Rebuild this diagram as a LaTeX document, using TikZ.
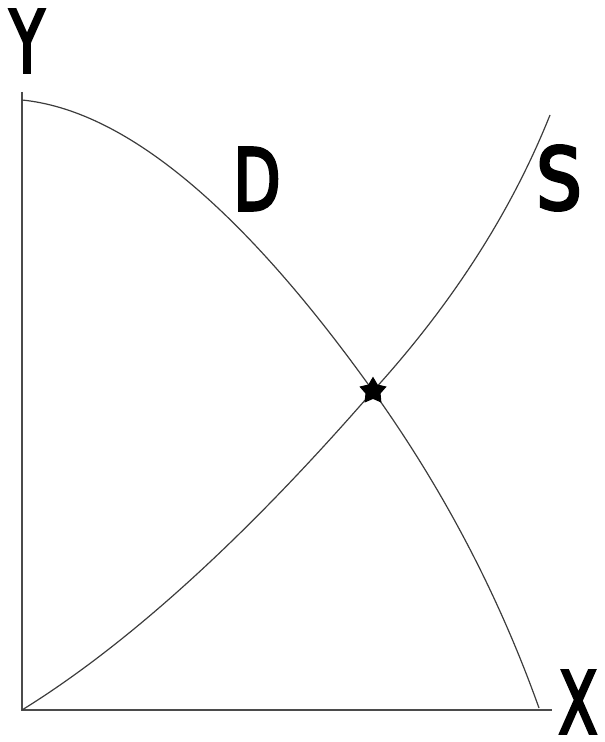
\documentclass[tikz,border=0pt]{standalone}
\usepackage{fontspec}
\usepackage{graphicx}
\setmainfont{DejaVu Sans}
\newfontfamily\letterfont{DejaVu Sans}[FakeBold=4]
\usetikzlibrary{shapes.geometric,intersections}

\tikzset{every picture/.style={line width=0.75pt}}
\tikzset{
  axisline/.style={color={rgb, 255:red, 75; green, 75; blue, 75}, line width=1.4},
  curveline/.style={color={rgb, 255:red, 60; green, 60; blue, 60}, line width=0.9},
  letter/.style={inner sep=0pt, font=\fontsize{64}{64}\selectfont\letterfont},
  eqmark/.style={star, star points=5, star point ratio=1.8, fill=black, draw=black, minimum size=20pt, inner sep=0pt},
}

\begin{document}
\begin{tikzpicture}[x=0.75pt,y=0.75pt,yscale=-1,xscale=1]
\useasboundingbox (0,0) rectangle (605,742);

%Points of the axes
\coordinate (O) at (22,710);
\coordinate (ytop) at (22,92);
\coordinate (xend) at (552,710);
%Ends of the curves and their crossing
\coordinate (dstart) at (22,100);
\coordinate (dend) at (539,708);
\coordinate (send) at (550,115);
\coordinate (eq) at (373,391);

%Straight Lines [axes]
\draw [axisline] (ytop) -- (O) -- (xend);

%Shape: Polynomial [demand]
\draw [curveline] (dstart) .. controls (124.8,110.3) and (241.8,207.3) .. (eq) .. controls (443.4,489.5) and (498.7,595.2) .. (dend);
%Shape: Polynomial [supply]
\draw [curveline] (O) .. controls (128.5,644) and (245.5,537.7) .. (eq) .. controls (452.3,303.8) and (511.3,211.8) .. (send);

%Star at the crossing
\node (eqstar) [eqmark] at (eq) {};

% Text Node
\node (ylabel) [letter] at (27,41) {\scalebox{0.66}[1]{Y}};
% Text Node
\node (dlabel) [letter] at (257,179) {\scalebox{0.72}[1]{D}};
% Text Node
\node (slabel) [letter] at (559,178) {\scalebox{0.84}[1]{S}};
% Text Node
\node (xlabel) [letter] at (578,702) {\scalebox{0.66}[1]{X}};

\end{tikzpicture}
\end{document}
